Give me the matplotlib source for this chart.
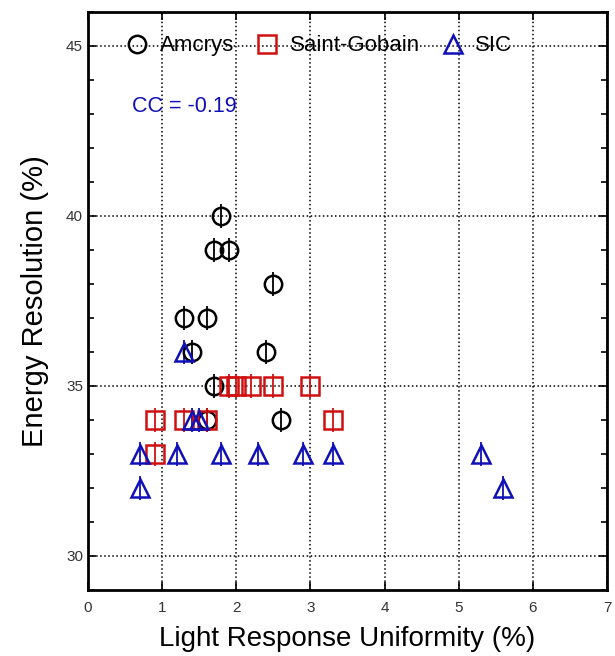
import numpy as np
import matplotlib
matplotlib.use("Agg")
import matplotlib.pyplot as plt
from matplotlib.ticker import MultipleLocator

plt.rcParams['font.family'] = ['Liberation Sans', 'DejaVu Sans']

# Amcrys
am_x = [1.8, 1.7, 1.9, 2.5, 1.3, 1.6, 1.4, 2.4, 1.7, 1.6, 2.6]
am_y = [40, 39, 39, 38, 37, 37, 36, 36, 35, 34, 34]
# Saint-Gobain
sg_x = [0.9, 1.3, 1.6, 3.3, 1.9, 2.0, 2.2, 2.5, 3.0, 0.9]
sg_y = [34, 34, 34, 34, 35, 35, 35, 35, 35, 33]
# SIC
sic_x = [1.3, 1.4, 1.5, 0.7, 1.2, 1.8, 2.3, 2.9, 3.3, 0.7, 5.3, 5.6]
sic_y = [36, 34, 34, 33, 33, 33, 33, 33, 33, 32, 33, 32]
err = 0.35
cc_text = "CC = -0.19"

fig = plt.figure(figsize=(6.15, 6.56), dpi=100)
ax = fig.add_axes([0.143, 0.101, 0.844, 0.881])

kw = dict(ls='none', mfc='none', ms=12.5, mew=1.8, elinewidth=1.3, capsize=0)
ax.errorbar(am_x, am_y, yerr=err, marker='o', color='black', label='Amcrys', **kw)
ax.errorbar(sg_x, sg_y, yerr=err, marker='s', color='#d01010', label='Saint-Gobain', **kw)
ax.errorbar(sic_x, sic_y, yerr=err, marker='^', color='#1010b8', label='SIC', **kw)

ax.set_xlim(0, 7)
ax.set_ylim(29, 46)
ax.xaxis.set_major_locator(MultipleLocator(1))
ax.yaxis.set_major_locator(MultipleLocator(5))
ax.yaxis.set_minor_locator(MultipleLocator(1))
ax.tick_params(which='both', direction='in', top=True, right=True, labelsize=11,
               labelcolor='#333333')
ax.tick_params(which='major', length=6, width=1.2)
ax.tick_params(which='minor', length=4, width=1.2)
ax.tick_params(axis='x', pad=8)
ax.grid(True, which='major', ls=':', color='black', lw=1.1)
for s in ax.spines.values():
    s.set_linewidth(2)

ax.set_xlabel('Light Response Uniformity (%)', fontsize=20, labelpad=8)
ax.set_ylabel('Energy Resolution (%)', fontsize=21, labelpad=12)

ax.text(0.6, 43.2, cc_text, color='#1010b8', fontsize=15.5, va='center')

handles, labels = ax.get_legend_handles_labels()
handles = [h[0] for h in handles]
leg = ax.legend(handles, labels, loc='center left', bbox_to_anchor=(0.074, 16 / 17),
                bbox_transform=ax.transAxes, ncol=3, frameon=False, fontsize=16,
                handletextpad=0.5, columnspacing=1.0, handlelength=1.0,
                borderpad=0, borderaxespad=0)

fig.savefig('out.png')
